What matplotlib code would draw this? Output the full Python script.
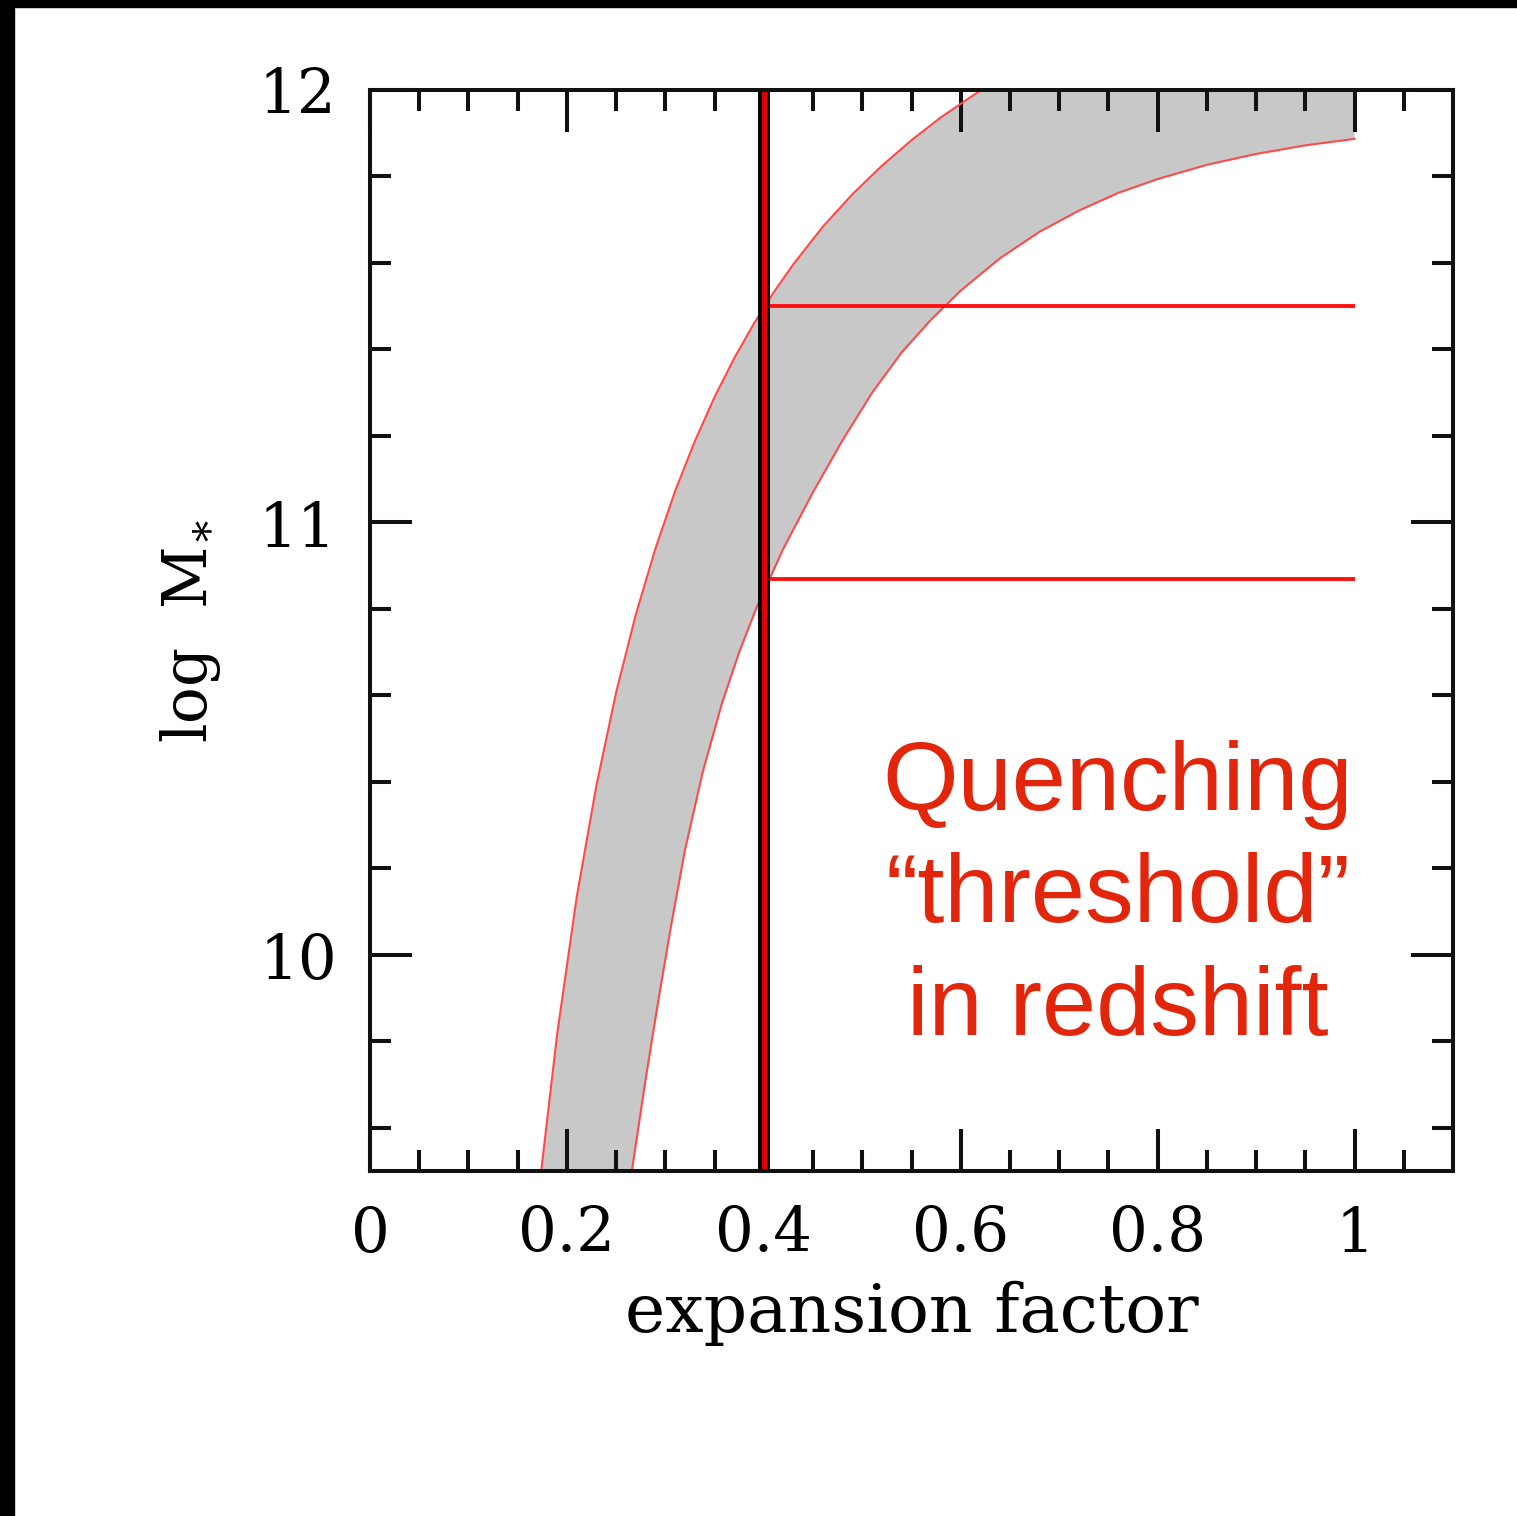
import matplotlib
matplotlib.use("Agg")
import matplotlib.pyplot as plt
from matplotlib.patches import Rectangle
from matplotlib.ticker import MultipleLocator

# Upper edge of the allowed band: expansion factor vs log stellar mass
upper_a = [0.174, 0.190, 0.210, 0.230, 0.250, 0.270, 0.290, 0.310, 0.330,
           0.350, 0.370, 0.390, 0.410, 0.430, 0.460, 0.490, 0.520, 0.550,
           0.580, 0.620, 0.660, 0.700, 0.750, 0.800, 0.900, 1.000]
upper_m = [9.502, 9.815, 10.134, 10.392, 10.607, 10.787, 10.940, 11.073,
           11.188, 11.290, 11.380, 11.460, 11.532, 11.597, 11.684, 11.759,
           11.825, 11.884, 11.937, 11.999, 12.053, 12.100, 12.153, 12.198,
           12.274, 12.334]

# Lower edge of the band
lower_a = [0.266, 0.280, 0.293, 0.306, 0.320, 0.338, 0.357, 0.375, 0.393,
           0.420, 0.450, 0.480, 0.510, 0.540, 0.570, 0.600, 0.640, 0.680,
           0.720, 0.760, 0.800, 0.850, 0.900, 0.950, 1.000]
lower_m = [9.500, 9.713, 9.896, 10.070, 10.243, 10.423, 10.578, 10.700,
           10.805, 10.940, 11.070, 11.190, 11.300, 11.393, 11.469, 11.536,
           11.611, 11.672, 11.721, 11.762, 11.794, 11.827, 11.852, 11.872,
           11.887]

# Quenching epoch and the two mass thresholds
a_quench = 0.4
thresholds = [11.50, 10.87]
a_end = 1.0

RED_TEXT = "#E1260C"
CURVE_RED = "#FF4A4A"

plt.rcParams["mathtext.fontset"] = "dejavuserif"

fig = plt.figure(figsize=(15.17, 15.16), dpi=100)
ax = fig.add_axes([370 / 1517, 1 - 1171 / 1516, 1083 / 1517, 1081 / 1516])

# Shaded band between the two edges
band_a = upper_a + lower_a[::-1]
band_m = upper_m + lower_m[::-1]
ax.fill(band_a, band_m, color="#C8C8C8", lw=0, zorder=1)

ax.plot(upper_a, upper_m, color=CURVE_RED, lw=1.5, zorder=2)
ax.plot(lower_a, lower_m, color=CURVE_RED, lw=1.5, zorder=2)

for m in thresholds:
    ax.plot([a_quench, a_end], [m, m], color="#FF1010", lw=2.8, zorder=3,
            solid_capstyle="butt")

ax.axvline(a_quench, color="black", lw=8.6, zorder=4)
ax.axvline(a_quench, color="#E00000", lw=3.6, zorder=5)

ax.set_xlim(0, 1.1)
ax.set_ylim(9.5, 12)

ax.xaxis.set_minor_locator(MultipleLocator(0.05))
ax.yaxis.set_minor_locator(MultipleLocator(0.2))
ax.set_xticks([0, 0.2, 0.4, 0.6, 0.8, 1.0])
ax.set_xticklabels(["0", "0.2", "0.4", "0.6", "0.8", "1"])
ax.set_yticks([10, 11, 12])
ax.set_yticklabels(["10", "11", "12"])

ax.tick_params(which="both", direction="in", top=True, right=True,
               width=2.9, color="#111111")
ax.tick_params(which="major", length=30, pad=24)
ax.tick_params(which="minor", length=15)
for lab in ax.get_xticklabels() + ax.get_yticklabels():
    lab.set_fontfamily("DejaVu Serif")
    lab.set_fontsize(44)
for s in ax.spines.values():
    s.set_linewidth(2.9)
    s.set_color("#111111")
    s.set_zorder(6)

ax.set_xlabel("expansion factor", fontfamily="DejaVu Serif", fontsize=49,
              labelpad=12)
ax.set_ylabel(r"log  M$_{\ast}$", fontfamily="DejaVu Serif", fontsize=44,
              labelpad=26)

ax.text(0.7594, 9.815, "Quenching\n\u201cthreshold\u201d\nin redshift",
        ha="center", va="baseline", color=RED_TEXT,
        fontsize=70, fontfamily="Liberation Sans",
        linespacing=1.32, zorder=7)

# Dark frame along the top and left edges
fig.patches.append(Rectangle((0, 1 - 7 / 1516), 1, 7 / 1516,
                             transform=fig.transFigure, color="black"))
fig.patches.append(Rectangle((0, 0), 14 / 1517, 1,
                             transform=fig.transFigure, color="black"))

fig.savefig("out.png", dpi=100)
